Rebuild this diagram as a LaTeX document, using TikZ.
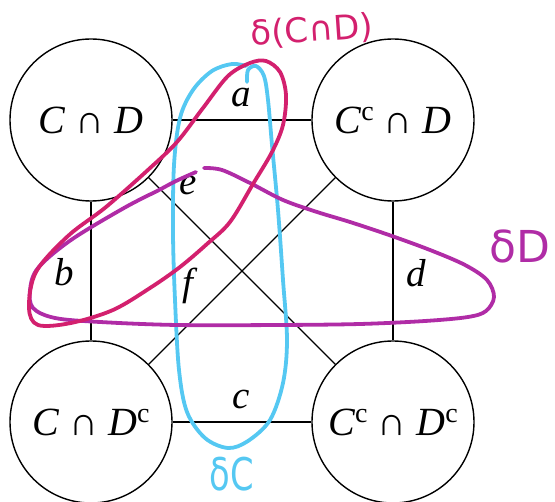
\documentclass[tikz,border=0pt]{standalone}
\usepackage{fontspec}
\setmainfont{Liberation Serif}
\newfontfamily\handfont{DejaVu Sans}
\definecolor{penred}{HTML}{D3206E}
\definecolor{penpurple}{HTML}{B02CA6}
\definecolor{pencyan}{HTML}{55C8F2}
\newcommand\csup{\raisebox{13pt}{\fontsize{28}{28}\selectfont c}}
\begin{document}
\begin{tikzpicture}[x=1pt,y=-1pt,
  region/.style={circle,draw,line width=1.4pt,minimum size=162pt,inner sep=0pt,font=\fontsize{40}{42}\selectfont},
  edge/.style={line width=1.2pt},
  lbl/.style={inner sep=0pt,font=\fontsize{39}{41}\selectfont\itshape},
  pen/.style={line width=3.8pt,line cap=round,line join=round},
  hand/.style={inner sep=0pt,font=\handfont\fontsize{34}{36}\selectfont}]
\useasboundingbox (0,0) rectangle (555,502);
\node[region] (cd)   at (91,120)  {\textit{C} ∩ \textit{D}};
\node[region] (ccd)  at (393,120) {\textit{C}\csup\ ∩ \textit{D}};
\node[region] (cdc)  at (91,422)  {\textit{C} ∩ \textit{D}\csup};
\node[region] (ccdc) at (393,422) {\textit{C}\csup\ ∩ \textit{D}\csup};
\draw[edge] (cd) -- (ccd);
\draw[edge] (cdc) -- (ccdc);
\draw[edge] (cd) -- (cdc);
\draw[edge] (ccd) -- (ccdc);
\draw[edge] (cd) -- (ccdc);
\draw[edge] (ccd) -- (cdc);
\node[lbl] (la) at (241,98)  {a};
\node[lbl] (le) at (188,186) {e};
\node[lbl] (lb) at (64,272)  {b};
\node[lbl] (lf) at (188,286) {f};
\node[lbl] (ld) at (416,273) {d};
\node[lbl] (lc) at (241,400) {c};
% delta C (cyan)
\draw[pen,pencyan] plot[smooth,tension=0.55] coordinates {
  (247,82) (248,70) (256,66) (264,76) (268,100) (272,145) (278,210) (283,280)
  (287,340) (283,383) (270,420) (248,441) (228,448) (205,438) (187,412)
  (179,370) (175,300) (173,233) (174,165) (180,118) (193,90) (212,71) (232,64) (246,66)};
% delta D (purple)
\draw[pen,penpurple] plot[smooth,tension=0.55] coordinates {
  (204,168) (222,170) (250,183) (283,200) (317,212) (350,222) (389,235) (430,250)
  (465,265) (487,280) (494,297) (486,311) (468,317) (425,321) (360,324) (280,325)
  (177,325) (100,322) (55,318) (33,308) (30,290) (38,268) (71,240) (124,208)
  (159,190) (176,181) (196,172)};
% delta (C cap D) (red)
\draw[pen,penred] plot[smooth cycle,tension=0.55] coordinates {
  (250,63) (266,61) (280,72) (286,95) (283,125) (272,152) (253,184) (230,222)
  (207,244) (180,267) (150,288) (113,310) (71,323) (38,325) (29,308) (36,272)
  (68,236) (106,207) (149,169) (177,142) (203,108) (228,76)};
\node[hand,text=penred,rotate=4] (tcd) at (312,31) {δ(C∩D)};
\node[hand,text=penpurple,font=\handfont\fontsize{44}{46}\selectfont] (tdd) at (520,246) {δD};
\node[hand,text=pencyan,xscale=0.75,font=\handfont\fontsize{45}{46}\selectfont] (tc) at (232,474) {δC};
\end{tikzpicture}
\end{document}
